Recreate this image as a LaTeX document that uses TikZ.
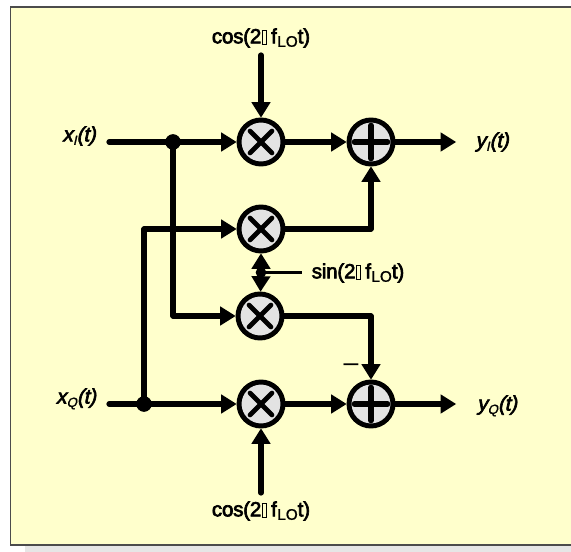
\documentclass[tikz,border=0pt]{standalone}
\usepackage{fontspec}
\setmainfont{Liberation Sans}
\newfontfamily\labfont[FakeBold=3.2,LetterSpace=-1]{Liberation Sans}
\newfontfamily\subfont[FakeBold=1]{Liberation Sans}
\newfontfamily\sigfont[FakeBold=3.2,FakeSlant=0.22,LetterSpace=-1]{Liberation Sans}
\newfontfamily\sigsub[FakeBold=1,FakeSlant=0.22]{Liberation Sans}
\usetikzlibrary{arrows.meta}
\newcommand{\tofu}{\kern0.3pt\raisebox{-0.6pt}{\fboxsep=0pt\fboxrule=0.4pt\fbox{\rule{0pt}{10.4pt}\kern3pt}}\kern0.3pt}
\newcommand{\lo}[1]{#1(2\tofu\kern3pt f\kern0.3pt\raisebox{-2.6pt}{\subfont\fontsize{11.5pt}{12pt}\selectfont LO}t)}
\newcommand{\sg}[2]{#1\kern0.2pt\raisebox{-2.6pt}{\sigsub\fontsize{10pt}{11pt}\selectfont #2}(t)}
\tikzset{
  x=0.75pt,y=-0.75pt,
  wire/.style={line width=3.9pt,line cap=round,line join=miter},
  arr/.style={wire,-{Triangle[length=11.5pt,width=14.5pt,line width=0pt]}},
  thin wire/.style={line width=2.1pt},
  junction/.style={circle,fill=black,inner sep=0pt,minimum size=11.5pt},
  opcircle/.style={circle,draw,fill=opfill,line width=3.7pt,inner sep=0pt,minimum size=33pt},
  mark stroke/.style={line width=3.5pt,line cap=round},
  plus stroke/.style={line width=3.9pt,line cap=round},
  label/.style={font=\labfont\fontsize{15.4pt}{16pt}\selectfont,inner sep=0pt},
  sig/.style={font=\sigfont\fontsize{15.4pt}{16pt}\selectfont,inner sep=0pt},
}
\definecolor{opfill}{HTML}{E3E3E3}
\definecolor{panel}{HTML}{FFFFCC}
\definecolor{shadow}{HTML}{E6E6E6}
\begin{document}
\begin{tikzpicture}
\useasboundingbox (0,0) rectangle (571,552);
\fill[white] (0,0) rectangle (571,552);
\fill[shadow] (25,540) rectangle (571,552);
\draw[fill=panel,draw=black!70,line width=0.9pt] (10.5,7) rectangle (572,545);
% mixers and adders
\node[opcircle] (m1) at (261,142) {};
\node[opcircle] (m2) at (261,229) {};
\node[opcircle] (m3) at (260,316) {};
\node[opcircle] (m4) at (261,404) {};
\node[opcircle] (a1) at (371,142) {};
\node[opcircle] (a2) at (371,404) {};
\foreach \n in {m1,m2,m3,m4}{
  \draw[mark stroke] ([shift={(-11,-11)}]\n.center) -- ([shift={(11,11)}]\n.center);
  \draw[mark stroke] ([shift={(-11,11)}]\n.center) -- ([shift={(11,-11)}]\n.center);
}
\foreach \n in {a1,a2}{
  \draw[plus stroke] ([xshift=-12.5pt]\n.center) -- ([xshift=12.5pt]\n.center);
  \draw[plus stroke] ([yshift=-12.5pt]\n.center) -- ([yshift=12.5pt]\n.center);
}
% junctions and free ends
\node[junction] (j1) at (173,142) {};
\node[junction] (j2) at (144,404) {};
\node[junction,minimum size=8pt] (j3) at (261,272.5) {};
\coordinate (xi) at (109,142);
\coordinate (xq) at (109,404);
\coordinate (yi) at (456,142);
\coordinate (yq) at (456,404);
\coordinate (ct) at (261,55);
\coordinate (cb) at (261,493);
\coordinate (st) at (302,272.5);
\coordinate (c1) at (173,316);
\coordinate (c2) at (144,229);
\coordinate (c3) at (371,229);
\coordinate (c4) at (371,316);
% connectors
\draw[arr] (xi) -- (m1);
\draw[wire] (j1.center) -- (c1);
\draw[arr] (c1) -- (m3);
\draw[arr] (xq) -- (m4);
\draw[wire] (j2.center) -- (c2);
\draw[arr] (c2) -- (m2);
\draw[arr] (ct) -- (m1);
\draw[arr] (cb) -- (m4);
\draw[arr] (m1) -- (a1);
\draw[arr] (m4) -- (a2);
\draw[arr] (a1) -- (yi);
\draw[arr] (a2) -- (yq);
\draw[wire] (m2) -- (c3);
\draw[arr] (c3) -- (a1);
\draw[wire] (m3) -- (c4);
\draw[arr] (c4) -- (a2);
\draw[arr,line width=2.4pt] (j3.center) -- (m2);
\draw[arr,line width=2.4pt] (j3.center) -- (m3);
\draw[thin wire] (j3.center) -- (st);
% junction dots on top of wires
\fill (j1.center) circle[radius=5.75pt];
\fill (j2.center) circle[radius=5.75pt];
% labels
\node[label] (l1) at (261,38) {\lo{cos}};
\node[label] (l2) at (261,511) {\lo{cos}};
\node[label] (l3) at (358,273) {\lo{sin}};
\node[sig] (l4) at (79,136) {\sg{x}{I}};
\node[sig] (l5) at (76,399) {\sg{x}{Q}};
\node[sig] (l6) at (492,142) {\sg{y}{I}};
\node[sig] (l7) at (497,406) {\sg{y}{Q}};
\node[inner sep=0pt,font=\fontsize{20pt}{20pt}\selectfont] (l8) at (351,368) {–};
\end{tikzpicture}
\end{document}
